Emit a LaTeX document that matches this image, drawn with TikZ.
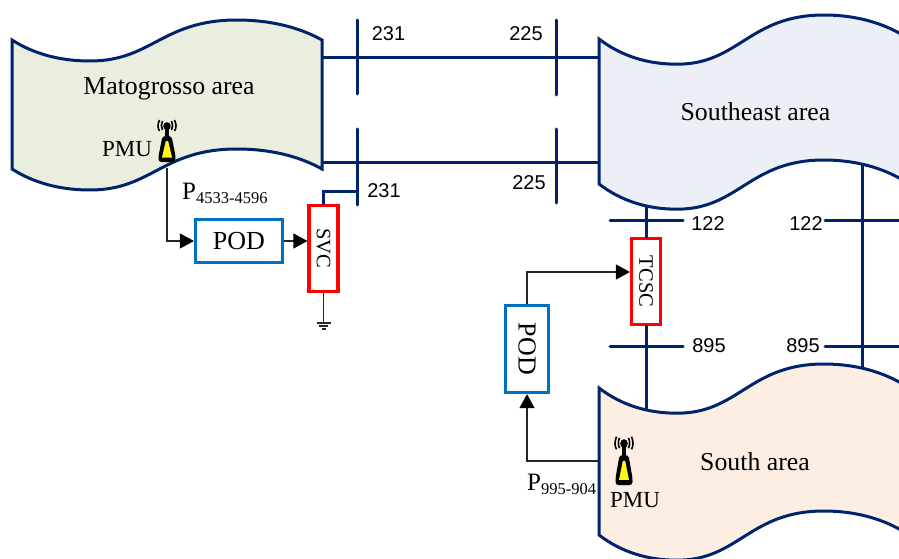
\documentclass[tikz,border=0pt]{standalone}
\usepackage{fontspec}
\setmainfont{Liberation Serif}
\newfontfamily\busfont{Liberation Sans}
\usetikzlibrary{arrows.meta}
\definecolor{navy}{HTML}{00246B}
\definecolor{podblue}{HTML}{0070C0}
\definecolor{matofill}{HTML}{E9EEDF}
\definecolor{sefill}{HTML}{ECF0F6}
\definecolor{southfill}{HTML}{FDEEE4}
\newcommand{\txtsize}[1]{\fontsize{#1}{#1}\selectfont}
\newcommand{\flowlabel}[1]{\txtsize{25}P\raisebox{-4pt}{\txtsize{16.5}#1}}
% area outline: x, y, height, wave height, fill
\newcommand{\areaband}[5]{
  \begin{scope}[shift={(#1,#2)},yscale=#4]
    \pgfmathsetmacro{\hh}{#3/#4}
    \draw[areaedge,fill=#5] (0,0)
      .. controls (22,14) and (48,21) .. (78,21)
      .. controls (140,21) and (150,-20) .. (225,-20)
      .. controls (255,-20) and (285,-14) .. (310,0)
      -- (310,\hh)
      .. controls (285,\hh-14) and (255,\hh-20) .. (225,\hh-20)
      .. controls (150,\hh-20) and (140,\hh+21) .. (78,\hh+21)
      .. controls (48,\hh+21) and (22,\hh+14) .. (0,\hh)
      -- cycle;
  \end{scope}
}
\tikzset{
  areaedge/.style={draw=navy, line width=3pt, line join=miter},
  busline/.style={draw=navy, line width=3pt, line cap=round},
  sigline/.style={draw=black!85, line width=1.2pt},
  sigarrow/.style={sigline, -{Triangle[length=14pt,width=15pt,color=black]}},
  podbox/.style={draw=podblue, line width=3.2pt, fill=white, inner sep=0pt, font=\txtsize{26}},
  devbox/.style={draw=red, line width=3.2pt, fill=white, inner sep=0pt, minimum width=29pt, minimum height=86pt, font=\txtsize{20.5}},
  arealabel/.style={font=\txtsize{25.8}},
  buslabel/.style={font=\busfont\txtsize{20}},
  pmutower/.pic={
    \fill[black, rounded corners=3pt] (-4.5,-26) -- (4.5,-26) -- (8.5,-6) -- (8.5,0) -- (-8.5,0) -- (-8.5,-6) -- cycle;
    \fill[yellow!90!white] (-1.2,-21) -- (1.2,-21) -- (5,-4.5) -- (-5,-4.5) -- cycle;
    \draw[black, line width=3.6pt] (0,-25) -- (0,-38);
    \fill[black] (0,-36) circle (3.8pt);
    \draw[black, line width=1.6pt] (-4.5,-41) .. controls (-6,-38) and (-6,-35) .. (-4.5,-32);
    \draw[black, line width=1.6pt] (4.5,-41) .. controls (6,-38) and (6,-35) .. (4.5,-32);
    \draw[black, line width=1.6pt] (-7.5,-42) .. controls (-9.5,-38) and (-9.5,-34) .. (-7.5,-31);
    \draw[black, line width=1.6pt] (7.5,-42) .. controls (9.5,-38) and (9.5,-34) .. (7.5,-31);
  }
}
\begin{document}
\begin{tikzpicture}[x=1pt, y=-1pt]
\useasboundingbox (0,0) rectangle (899,559);
\clip (0,0) rectangle (899,559);

% Buses
\foreach \n/\xa/\ya/\xb/\yb in {
  busAl/357.5/20/357.5/94,
  busAr/556/20/556/95,
  busBl/357.5/129/357.5/205,
  busBr/556/129/556/203,
  tieA/322/58/599/58,
  tieB/322/162/599/162,
  busCl/610/220/683/220,
  busCr/825/220/905/220,
  busDl/610/346/683/346,
  busDr/825/346/905/346,
  tieR/862/158/862/372
}
{
  \coordinate (\n a) at (\xa,\yb);
  \coordinate (\n b) at (\xb,\ya);
  \draw[busline] (\n a) -- (\n b);
}

% Devices
\node[podbox, minimum width=87pt, minimum height=43pt] (podsvc) at (239,241) {POD};
\node[devbox] (svc) at (323.5,248.5) {\rotatebox{-90}{SVC}};
\node[devbox] (tcsc) at (646,281.5) {\rotatebox{-90}{TCSC}};
\node[podbox, minimum width=43pt, minimum height=87pt] (podtcsc) at (527,349) {\rotatebox{-90}{POD}};

% Device feeders
\coordinate (svcbus) at (357,191);
\coordinate (seout) at (646,205);
\coordinate (southin) at (646,412);
\draw[busline] (svc.north) |- (svcbus);
\draw[busline] (seout) -- (tcsc.north);
\draw[busline] (tcsc.south) -- (southin);

% Control signals
\coordinate (matotap) at (167,168);
\coordinate (southtap) at (599,461);
\coordinate (gnd) at (323.5,323);
\draw[sigarrow] (matotap) |- (podsvc.west);
\draw[sigarrow] (podsvc.east) -- (podsvc.east -| svc.west);
\draw[sigarrow] (podtcsc.north) |- (tcsc.west |- 0,272);
\draw[sigarrow] (southtap) -| (podtcsc.south);
\draw[sigline] (svc.south) -- (gnd);
\draw[sigline] (316.5,323) -- (330.5,323);
\draw[sigline] (319,326) -- (328,326);
\draw[sigline] (321.5,329) -- (325.5,329);

% Areas
\areaband{12}{40}{129}{1}{matofill}
\areaband{599}{39}{145}{1.2}{sefill}
\areaband{599}{388}{147}{1.2}{southfill}

% Area labels
\foreach \n/\x/\y/\p in {
  lblmato/169/89/{Matogrosso area},
  lblse/755.5/112/{Southeast area},
  lblsouth/755/462/{South area},
  lblpmua/127/149/{\txtsize{23}PMU},
  lblpmub/635/500/{\txtsize{23}PMU}
}
{
  \node[arealabel] (\n) at (\x,\y) {\p};
}

% PMU towers
\pic at (167,162) {pmutower};
\pic[yscale=1.15] at (624,485) {pmutower};

% Bus labels
\foreach \n/\x/\y/\p in {
  lblAl/388.5/34/231,
  lblAr/526/34/225,
  lblBl/384/191/231,
  lblBr/529/183/225,
  lblCa/708/224/122,
  lblCb/806/224/122,
  lblDa/709/346/895,
  lblDb/803/346/895
}
{
  \node[buslabel] (\n) at (\x,\y) {\p};
}

% Flow labels
\node[anchor=base west, inner sep=0pt] (flowmato) at (182,199) {\flowlabel{4533-4596}};
\node[anchor=base west, inner sep=0pt] (flowsouth) at (527,490) {\flowlabel{995-904}};

\end{tikzpicture}
\end{document}
